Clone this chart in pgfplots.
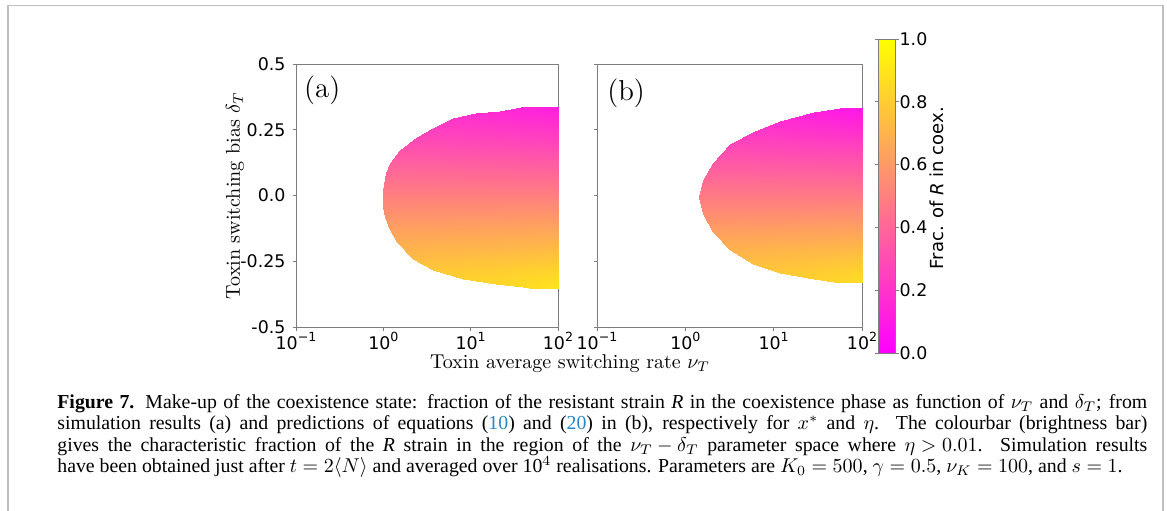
\documentclass[border=0pt]{standalone}
\usepackage{fontspec}
\usepackage{pgfplots}
\pgfplotsset{compat=1.18}
\newfontfamily\dejavu{DejaVu Sans}
\newfontfamily\capfont{Liberation Serif}
\definecolor{linkblue}{RGB}{35,135,200}
\definecolor{framegray}{RGB}{125,125,125}
\newcommand\tenpow[1]{10\raisebox{0.8ex}{\fontsize{6.3}{7}\selectfont #1}}

\begin{document}
\medmuskip=4mu
\thickmuskip=5mu
\begin{tikzpicture}
\useasboundingbox (0pt,0pt) rectangle (583.5pt,-255pt);
\draw[black!25, line width=0.8pt] (4pt,-256pt) -- (4pt,-2.75pt) -- (581.5pt,-2.75pt) -- (581.5pt,-256pt);

% panel (a)
\begin{axis}[scale only axis, width=131pt, height=131.5pt, at={(148pt,-32pt)}, anchor=north west,
    xmode=log, xmin=0.1, xmax=100, ymin=-0.5, ymax=0.5,
    xtick={0.1,1,10,100},
    xticklabels={\tenpow{−1},\tenpow{0},\tenpow{1},\tenpow{2}},
    xminorticks=false,
    ytick={-0.5,-0.25,0,0.25,0.5},
    yticklabels={-0.5,-0.25,0.0,0.25,0.5},
    xtick pos=bottom, ytick pos=left,
    tick align=outside, major tick length=1.75pt,
    tick style={framegray, line width=0.4pt},
    axis line style={framegray, line width=0.5pt},
    xticklabel style={font=\dejavu\fontsize{8.7}{10}\selectfont, yshift=2.5pt},
    yticklabel style={font=\dejavu\fontsize{8.7}{10}\selectfont},
    colormap={spring}{rgb=(1,0,1) rgb=(1,1,0)},
    point meta min=0, point meta max=1,
    ylabel={Toxin switching bias $\delta_T$},
    ylabel style={font=\fontsize{10}{12}\selectfont, at={(axis description cs:-0.233,0.5)}, anchor=center},
]
\addplot[surf, shader=interp, mesh/cols=2, point meta=explicit] table[x=nu, y=d, meta=v] {
nu d v
38.1 0.335 0.165
100 0.335 0.115
21.5 0.322 0.178
100 0.322 0.130
11.6 0.312 0.188
100 0.312 0.141
6.30 0.293 0.207
100 0.293 0.163
3.72 0.255 0.245
100 0.255 0.207
2.40 0.223 0.277
100 0.223 0.244
1.55 0.173 0.327
100 0.173 0.301
1.19 0.122 0.378
100 0.122 0.360
1.07 0.084 0.416
100 0.084 0.403
1.00 0.020 0.480
100 0.020 0.477
1.00 -0.043 0.543
100 -0.043 0.549
1.04 -0.081 0.581
100 -0.081 0.593
1.19 -0.132 0.632
100 -0.132 0.652
1.42 -0.176 0.676
100 -0.176 0.702
2.20 -0.240 0.740
100 -0.240 0.776
3.72 -0.284 0.784
100 -0.284 0.827
8.20 -0.316 0.816
100 -0.316 0.863
19.7 -0.335 0.835
100 -0.335 0.885
40.0 -0.348 0.848
100 -0.348 0.900
55.0 -0.354 0.854
100 -0.354 0.907
};
\node[font=\fontsize{14.4}{16}\selectfont] at (axis description cs:0.1,0.9) {(a)};
\end{axis}

% panel (b)
\begin{axis}[scale only axis, width=132.5pt, height=131.5pt, at={(298.5pt,-32pt)}, anchor=north west,
    xmode=log, xmin=0.1, xmax=100, ymin=-0.5, ymax=0.5,
    xtick={0.1,1,10,100},
    xticklabels={\tenpow{−1},\tenpow{0},\tenpow{1},\tenpow{2}},
    xminorticks=false,
    ytick={-0.5,-0.25,0,0.25,0.5},
    yticklabels={},
    xtick pos=bottom, ytick pos=left,
    tick align=outside, major tick length=1.75pt,
    tick style={framegray, line width=0.4pt},
    axis line style={framegray, line width=0.5pt},
    xticklabel style={font=\dejavu\fontsize{8.7}{10}\selectfont, yshift=2.5pt},
    colormap={spring}{rgb=(1,0,1) rgb=(1,1,0)},
    point meta min=0, point meta max=1,
    colorbar,
    colorbar style={
      at={(parent axis.north east)}, anchor=north west,
      xshift=-0.5pt, yshift=12.5pt,
      scale only axis, width=8.5pt, height=157pt,
      ytick={0,0.2,0.4,0.6,0.8,1},
      yticklabels={0.0,0.2,0.4,0.6,0.8,1.0},
      tick align=outside, major tick length=1.75pt,
      tick style={framegray, line width=0.4pt},
      axis line style={framegray, line width=0.5pt},
      yticklabel style={font=\dejavu\fontsize{8.7}{10}\selectfont, xshift=-3pt},
      ylabel={Frac. of {\dejavu\itshape R} in coex.},
      ylabel style={font=\dejavu\fontsize{9}{10}\selectfont, at={(axis description cs:3.45,0.525)}, anchor=center},
    },
]
\addplot[surf, shader=interp, mesh/cols=2, point meta=explicit] table[x=nu, y=d, meta=v] {
nu d v
56.8 0.331 0.132
100 0.331 0.083
28.3 0.319 0.145
100 0.319 0.097
11.8 0.283 0.183
100 0.283 0.140
5.89 0.242 0.226
100 0.242 0.190
3.21 0.194 0.276
100 0.194 0.247
2.07 0.122 0.352
100 0.122 0.334
1.60 0.058 0.419
100 0.058 0.410
1.44 -0.005 0.485
100 -0.005 0.486
1.60 -0.069 0.552
100 -0.069 0.563
2.07 -0.138 0.625
100 -0.138 0.646
3.21 -0.208 0.698
100 -0.208 0.730
5.89 -0.259 0.752
100 -0.259 0.791
11.8 -0.293 0.788
100 -0.293 0.832
28.3 -0.316 0.812
100 -0.316 0.859
56.8 -0.331 0.828
100 -0.331 0.877
};
\node[font=\fontsize{14.4}{16}\selectfont] at (axis description cs:0.11,0.89) {(b)};
\end{axis}

\node[anchor=base, font=\fontsize{10}{12}\selectfont, inner sep=0pt] at (285pt,-184pt) {Toxin average switching rate $\nu_T$};

% caption
\begin{scope}[every node/.style={anchor=base west, inner sep=0pt, font=\capfont\fontsize{9.9}{10.7}\selectfont}]
\node at (28.5pt,-204pt) {\makebox[545pt][s]{\textbf{Figure 7.} Make-up of the coexistence state: fraction of the resistant strain \textit{R} in the coexistence phase as function of $\nu_T$ and $\delta_T$; from}};
\node at (28.5pt,-214.75pt) {\makebox[545pt][s]{simulation results (a) and predictions of equations ({\color{linkblue}10}) and ({\color{linkblue}20}) in (b), respectively for $x^*$ and $\eta$. The colourbar (brightness bar)}};
\node at (28.5pt,-225.5pt) {\makebox[545pt][s]{gives the characteristic fraction of the \textit{R} strain in the region of the $\nu_T-\delta_T$ parameter space where $\eta>0.01$. Simulation results}};
\node at (28.5pt,-236.25pt) {have been obtained just after $t=2\langle N\rangle$ and averaged over 10$^4$ realisations. Parameters are $K_0=500$, $\gamma=0.5$, $\nu_K=100$, and $s=1$.};
\end{scope}
\end{tikzpicture}
\end{document}
